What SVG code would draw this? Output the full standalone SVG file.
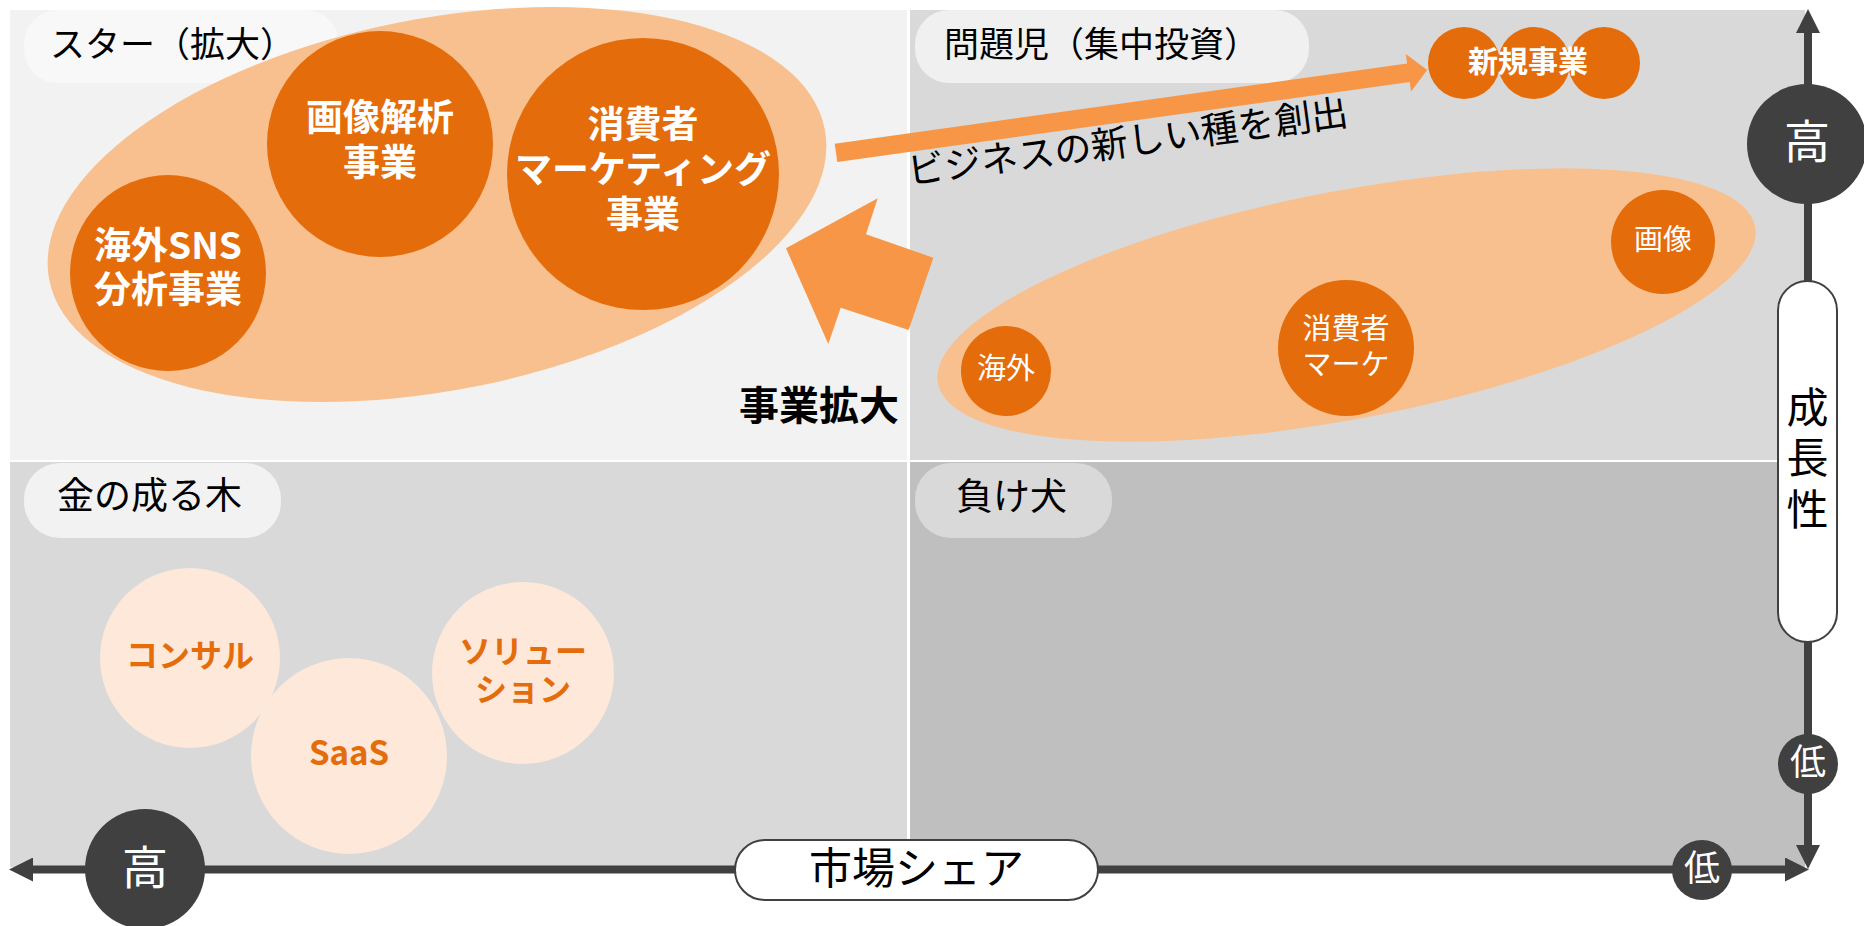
<svg xmlns="http://www.w3.org/2000/svg" width="1864" height="926" viewBox="0 0 1864 926">
<style>
text{font-family:'Noto Sans CJK JP','Noto Sans',sans-serif;}
.c{text-anchor:middle}
.b{font-weight:700}
.w{fill:#ffffff}
.k{fill:#000000}
.o{fill:#E46C0A}
.dkfill{fill:#E46C0A}
.ltfill{fill:#F9C08F}
.palefill{fill:#FDE8D9}
.arrowfill{fill:#F79646}
.axis{stroke:#404040;stroke-width:8;fill:none}
.axdot{fill:#404040}
.axpill{fill:#ffffff;stroke:#404040;stroke-width:2}
</style>
<defs>
<marker id="ah" viewBox="0 0 24 24" markerWidth="24" markerHeight="24" markerUnits="userSpaceOnUse" refX="2" refY="12" orient="auto-start-reverse">
<path d="M0,0 L24,12 L0,24 Z" fill="#404040"/>
</marker>
</defs>
<rect x="0" y="0" width="1864" height="926" fill="#ffffff"/>

<g id="quadrant-star">
<rect x="10" y="10" width="897" height="450" fill="#F2F2F2"/>
<rect x="24" y="10" width="315" height="73" rx="34" fill="#F8F8F8"/>
</g>
<g id="quadrant-problem">
<rect x="910" y="10" width="895" height="450" fill="#D9D9D9"/>
<rect x="915" y="10" width="394" height="73" rx="34" fill="#F0F0F0"/>
<text x="944" y="56.5" font-size="35" class="k">問題児（集中投資）</text>
</g>
<g id="quadrant-cashcow">
<rect x="10" y="462" width="897" height="405" fill="#D9D9D9"/>
<rect x="24" y="463" width="257" height="75" rx="36" fill="#F2F2F2"/>
<text x="57" y="509" font-size="37" class="k">金の成る木</text>
</g>
<g id="quadrant-dog">
<rect x="910" y="462" width="895" height="405" fill="#BFBFBF"/>
<rect x="915" y="463" width="197" height="75" rx="36" fill="#D9D9D9"/>
<text x="956" y="510" font-size="37" class="k">負け犬</text>
</g>

<g id="star-group">
<ellipse cx="437" cy="204.5" rx="395" ry="186" transform="rotate(-11 437 204.5)" class="ltfill"/>
<text x="50" y="56.5" font-size="35" class="k">スター（拡大）</text>
</g>
<g id="star-overseas-sns">
<circle cx="168" cy="273" r="98" class="dkfill"/>
<text font-size="37" class="c b w"><tspan x="168" y="259">海外SNS</tspan><tspan x="168" y="303">分析事業</tspan></text>
</g>
<g id="star-image">
<circle cx="380" cy="144" r="113" class="dkfill"/>
<text font-size="37" class="c b w"><tspan x="380" y="130.5">画像解析</tspan><tspan x="380" y="175.5">事業</tspan></text>
</g>
<g id="star-consumer">
<circle cx="643" cy="174" r="136" class="dkfill"/>
<text font-size="37" class="c b w"><tspan x="643" y="138">消費者</tspan><tspan x="643" y="183">マーケティング</tspan><tspan x="643" y="228">事業</tspan></text>
</g>

<g id="problem-group">
<ellipse cx="1346.5" cy="305" rx="416" ry="114" transform="rotate(-10.85 1346.5 305)" class="ltfill"/>
</g>
<g id="problem-overseas">
<circle cx="1006" cy="371" r="45" class="dkfill"/>
<text x="1006" y="378.5" font-size="29" class="c w">海外</text>
</g>
<g id="problem-consumer">
<circle cx="1346" cy="348" r="68" class="dkfill"/>
<text font-size="29" class="c w"><tspan x="1346" y="338.5">消費者</tspan><tspan x="1346" y="375">マーケ</tspan></text>
</g>
<g id="problem-image">
<circle cx="1663" cy="242" r="52" class="dkfill"/>
<text x="1663" y="250" font-size="29" class="c w">画像</text>
</g>
<g id="new-business">
<circle cx="1464" cy="63" r="36" class="dkfill"/>
<circle cx="1534" cy="63" r="36" class="dkfill"/>
<circle cx="1604" cy="63" r="36" class="dkfill"/>
<text x="1528" y="72" font-size="30" class="c b w">新規事業</text>
</g>

<g id="cash-consul">
<circle cx="190" cy="658" r="90" class="palefill"/>
<text x="190" y="667" font-size="32" class="c b o">コンサル</text>
</g>
<g id="cash-saas">
<circle cx="349" cy="756" r="98" class="palefill"/>
<text x="349" y="765" font-size="33" class="c b o">SaaS</text>
</g>
<g id="cash-solution">
<circle cx="523" cy="673" r="91" class="palefill"/>
<text font-size="32" class="c b o"><tspan x="523" y="663">ソリュー</tspan><tspan x="523" y="701">ション</tspan></text>
</g>

<g id="connectors">
<polygon points="786,248.3 877.7,198.3 866,234.3 933.3,257.7 908.7,330 840.7,307.7 828.3,344" class="arrowfill"/>
<polygon transform="translate(836 152.9) rotate(-7.97)" points="0,-9.3 578,-9.3 578,-19 597,0 578,19 578,9.3 0,9.3" class="arrowfill"/>
<line x1="31" y1="869.5" x2="1787" y2="869.5" class="axis" marker-start="url(#ah)" marker-end="url(#ah)"/>
<line x1="1808" y1="31" x2="1808" y2="847" class="axis" marker-start="url(#ah)" marker-end="url(#ah)"/>
</g>

<g id="label-expand">
<text x="739" y="419.5" font-size="40" class="b k">事業拡大</text>
</g>
<g id="label-new-seed">
<text transform="translate(909.5 184.5) rotate(-7.7)" font-size="37" class="k">ビジネスの新しい種を創出</text>
</g>

<g id="axis-growth-high">
<circle cx="1807" cy="144" r="60" class="axdot"/>
<text x="1807" y="157.5" font-size="46" class="c w">高</text>
</g>
<g id="axis-growth-label">
<rect x="1778" y="281" width="59" height="361" rx="29.5" class="axpill"/>
<text font-size="42" class="c k"><tspan x="1807.5" y="422.5">成</tspan><tspan x="1807.5" y="472.5">長</tspan><tspan x="1807.5" y="525">性</tspan></text>
</g>
<g id="axis-growth-low">
<circle cx="1808" cy="764" r="30" class="axdot"/>
<text x="1808" y="774.5" font-size="36" class="c w">低</text>
</g>
<g id="axis-share-high">
<circle cx="145" cy="869" r="60" class="axdot"/>
<text x="145" y="883.5" font-size="46" class="c w">高</text>
</g>
<g id="axis-share-label">
<rect x="735" y="840" width="363" height="60" rx="30" class="axpill"/>
<text x="916.5" y="884" font-size="43" class="c k">市場シェア</text>
</g>
<g id="axis-share-low">
<circle cx="1702" cy="870" r="30" class="axdot"/>
<text x="1702" y="880.5" font-size="36" class="c w">低</text>
</g>
</svg>
